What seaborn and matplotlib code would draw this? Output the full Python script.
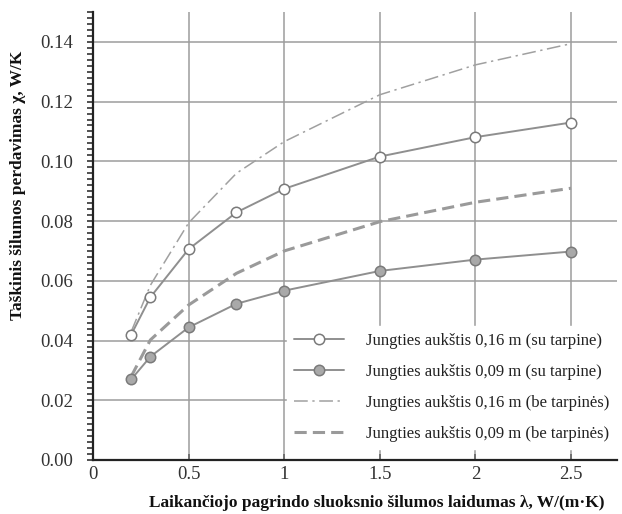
import numpy as np
import pandas as pd
import matplotlib
matplotlib.use("Agg")
import matplotlib.pyplot as plt
import seaborn as sns
from matplotlib.ticker import MultipleLocator

# ---- data ----
x_vals = [0.2, 0.3, 0.5, 0.75, 1.0, 1.5, 2.0, 2.5]
y_016_su = [0.042, 0.0545, 0.0706, 0.0829, 0.0908, 0.1016, 0.1081, 0.1130]
y_009_su = [0.0270, 0.0346, 0.0444, 0.0523, 0.0567, 0.0633, 0.0671, 0.0698]
y_016_be = [0.0430, 0.0585, 0.0794, 0.0960, 0.1066, 0.1223, 0.1323, 0.1394]
y_009_be = [0.0280, 0.0402, 0.0519, 0.0625, 0.0700, 0.0798, 0.0863, 0.0910]
labels = [
    "Jungties aukštis 0,16 m (su tarpine)",
    "Jungties aukštis 0,09 m (su tarpine)",
    "Jungties aukštis 0,16 m (be tarpinės)",
    "Jungties aukštis 0,09 m (be tarpinės)",
]
xlabel = "Laikančiojo pagrindo sluoksnio šilumos laidumas λ, W/(m·K)"
ylabel = "Taškinis šilumos perdavimas χ, W/K"

sns.set_style("white")
plt.rcParams['font.family'] = ['Liberation Serif', 'DejaVu Serif']

fig = plt.figure(figsize=(6.22, 5.14), dpi=100)
ax = fig.add_axes([93/622, 1 - 460/514, 524/622, 448/514])

line_c = "#8f8f8f"

sns.lineplot(x=x_vals, y=y_016_be, ax=ax, color="#a0a0a0", lw=1.1,
             label=labels[2], zorder=3,
             linestyle=(0, (9, 3, 1.5, 3)))
sns.lineplot(x=x_vals, y=y_009_be, ax=ax, color="#9a9a9a", lw=2.2,
             label=labels[3], zorder=3, linestyle=(0, (4, 2)))
sns.lineplot(x=x_vals, y=y_016_su, ax=ax, color=line_c, lw=1.4,
             marker="o", markersize=7.5, markerfacecolor="white",
             markeredgecolor="#7a7a7a", markeredgewidth=1.1,
             label=labels[0], zorder=4)
sns.lineplot(x=x_vals, y=y_009_su, ax=ax, color=line_c, lw=1.4,
             marker="o", markersize=7.5, markerfacecolor="#a9a9a9",
             markeredgecolor="#7a7a7a", markeredgewidth=1.1,
             label=labels[1], zorder=4)

ax.set_xlim(0, 2.74)
ax.set_ylim(0, 0.15)
ax.set_xticks([0, 0.5, 1, 1.5, 2, 2.5])
ax.set_xticklabels(["0", "0.5", "1", "1.5", "2", "2.5"])
yt = np.arange(0, 0.141, 0.02)
ax.set_yticks(yt)
ax.set_yticklabels([f"{v:.2f}" for v in yt])
ax.yaxis.set_minor_locator(MultipleLocator(0.002))

ax.grid(True, which="major", color="#9c9c9c", lw=1.1)
ax.set_axisbelow(True)
for s in ["top", "right"]:
    ax.spines[s].set_visible(False)
for s in ["left", "bottom"]:
    ax.spines[s].set_color("#222222")
    ax.spines[s].set_linewidth(1.6)

ax.tick_params(axis="y", which="both", direction="out", length=4.5, width=1.2,
               color="#333333", labelsize=13.5, labelcolor="#333333", pad=10,
               left=True)
ax.tick_params(axis="x", which="both", direction="in", length=4, width=1.2,
               color="#666666", labelsize=13.5, labelcolor="#333333", pad=4,
               bottom=True)

ax.set_xlabel("")
ax.set_ylabel("")
fig.text(377/622, 1 - 503/514, xlabel, fontsize=12.5, fontweight="bold",
         ha="center", va="center", color="#111111")
fig.text(18/622, 1 - 185/514, ylabel, fontsize=12.5, fontweight="bold",
         ha="center", va="center", rotation=90, color="#111111")

h, l = ax.get_legend_handles_labels()
order = [l.index(t) for t in labels]
leg = ax.legend([h[i] for i in order], [l[i] for i in order],
                loc="upper left", bbox_to_anchor=(279/622, 1 - 318/514),
                bbox_transform=fig.transFigure, frameon=True, fontsize=12,
                handlelength=3.0, handletextpad=1.3, labelspacing=0.9,
                borderpad=0.4, fancybox=False)
leg.get_frame().set_facecolor("white")
leg.get_frame().set_edgecolor("white")
leg.get_frame().set_alpha(1)
leg.set_zorder(10)
for t in leg.get_texts():
    t.set_color("#222222")

fig.savefig("out.png", dpi=100)
